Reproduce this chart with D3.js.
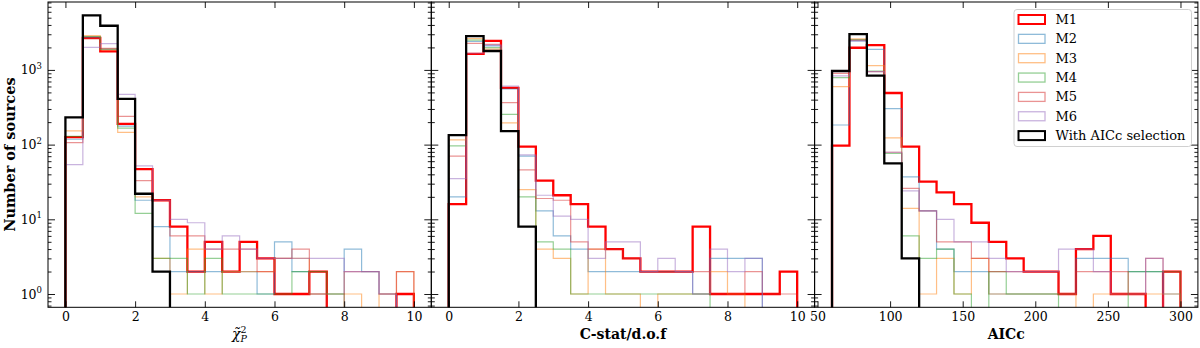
<!DOCTYPE html>
<html><head><meta charset="utf-8">
<script src="https://cdn.jsdelivr.net/npm/d3@7"></script>
<style>
html,body{margin:0;padding:0;background:#fff;}
svg text{font-family:"DejaVu Serif",serif;}
</style></head>
<body><svg id="c" width="1200" height="348"></svg>
<script>
// ---------------- DATA ----------------
const seriesNames = ["M1","M2","M3","M4","M5","M6","With AICc selection"];
const seriesColors = ["#ff0000","#1f77b4","#ff7f0e","#2ca02c","#d62728","#9467bd","#000000"];

const chiEdges = [0,0.5,1,1.5,2,2.5,3,3.5,4,4.5,5,5.5,6,6.5,7,7.5,8,8.5,9,9.5,10];
const chiM1  = [126,2680,1770,190,47,18,8,2,5,2,5,3,1,1,2,0,0,0,0,1];
const chiM2  = [118,2750,1880,177,18,8,2,2,2,2,2,1,5,2,1,1,4,2,1,0];
const chiM3  = [153,2870,1850,146,20,3,1,4,1,2,2,2,3,3,1,1,1,0,1,2];
const chiM4  = [129,2800,1905,166,12,3,3,1,3,1,1,1,1,2,2,1,0,0,0,0];
const chiM5  = [106,2600,1940,239,33,18,6,6,4,4,4,2,3,4,1,0,2,2,1,2];
const chiM6  = [54,2005,2245,471,52,18,10,9,4,6,4,3,3,3,3,3,2,2,1,0];
const chiSel = [231,5380,3900,410,22,2,0,0,0,0,0,0,0,0,0,0,0,0,0,0];

const cstatEdges = [0,0.5,1,1.5,2,2.5,3,3.5,4,4.5,5,5.5,6,6.5,7,7.5,8,8.5,9,9.5,10];
const cstatM1  = [16,1640,2440,573,94,33,21,16,8,4,3,2,2,2,8,1,1,1,1,2];
const cstatM2  = [20,2400,2100,555,70,13,6,4,2,2,2,2,2,2,1,3,3,3,0,0];
const cstatM3  = [116,2620,1900,195,25,4,3,1,4,1,1,0,1,1,1,2,1,0,0,0];
const cstatM4  = [96,2500,1990,254,20,5,4,1,1,1,1,1,1,1,1,0,0,0,0,0];
const cstatM5  = [70,2270,2200,364,46,19,18,5,4,4,3,2,2,2,2,1,1,2,1,1];
const cstatM6  = [35,1670,2150,608,73,21,11,10,3,5,5,2,3,2,1,4,2,3,0,0];
const cstatSel = [134,2840,1790,152,8,0,0,0,0,0,0,0,0,0,0,0,0,0,0,0];

const aiccEdges = [60,72,84,96,108,120,132,144,156,168,180,192,204,216,228,240,252,264,276,288,300];
const aiccM1  = [97,1980,2150,491,94,32,23,16,9,5,3,2,2,1,4,6,1,1,0,2];
const aiccM2  = [183,2440,1885,303,37,13,4,2,2,1,1,1,1,1,3,3,3,2,2,1];
const aiccM3  = [596,2600,1140,123,14,1,3,1,3,1,1,1,1,1,0,1,1,1,1,1];
const aiccM4  = [790,2550,967,76,6,3,4,1,0,2,1,1,1,0,0,0,0,2,2,2];
const aiccM5  = [900,2500,950,79,26,13,5,5,3,2,2,2,2,1,2,2,2,1,3,2];
const aiccM6  = [830,2450,950,79,24,13,10,5,5,3,2,2,2,4,4,2,1,1,3,0];
const aiccSel = [967,3020,836,56,3,0,0,0,0,0,0,0,0,0,0,0,0,0,0,0];

const chiTicks = [0,2,4,6,8,10];
const cstatTicks = [0,2,4,6,8,10];
const aiccTicks = [50,100,150,200,250,300];
const yMajorTicks = [1,10,100,1000];
const yMinorTicks = [0.7,0.8,0.9,2,3,4,5,6,7,8,9,20,30,40,50,60,70,80,90,200,300,400,500,600,700,800,900,2000,3000,4000,5000,6000,7000,8000];
const yTickExp = ["0","1","2","3"];

// ---------------- LAYOUT ----------------
const svg = d3.select("#c");
const L = 48, PW = 383.3, T = 2, B = 307.3;
const y = d3.scaleLog().domain([0.664, 8110]).range([B, T]);

const panels = [
  {edges: chiEdges, series:[chiM1,chiM2,chiM3,chiM4,chiM5,chiM6,chiSel], dom:[-0.5,10.5], ticks: chiTicks},
  {edges: cstatEdges, series:[cstatM1,cstatM2,cstatM3,cstatM4,cstatM5,cstatM6,cstatSel], dom:[-0.5,10.5], ticks: cstatTicks},
  {edges: aiccEdges, series:[aiccM1,aiccM2,aiccM3,aiccM4,aiccM5,aiccM6,aiccSel], dom:[48,312], ticks: aiccTicks}
];

const defs = svg.append("defs");

panels.forEach((p, pi) => {
  const x0 = L + pi*PW, x1 = x0 + PW;
  const x = d3.scaleLinear().domain(p.dom).range([x0, x1]);
  const g = svg.append("g");
  defs.append("clipPath").attr("id","clip"+pi).append("rect")
    .attr("x", x0).attr("y", T).attr("width", PW).attr("height", B-T);

  const plot = g.append("g").attr("clip-path", `url(#clip${pi})`);
  const line = d3.line();
  p.series.forEach((vals, si) => {
    const pts = [[x(p.edges[0]), B+20]];
    vals.forEach((v, i) => {
      const yy = v > 0 ? y(v) : B+20;
      pts.push([x(p.edges[i]), yy]);
      pts.push([x(p.edges[i+1]), yy]);
    });
    pts.push([x(p.edges[p.edges.length-1]), B+20]);
    const thick = (si === 0 || si === 6);
    plot.append("path").attr("d", line(pts))
      .attr("fill","none")
      .attr("stroke", seriesColors[si])
      .attr("stroke-width", thick ? 2.3 : 1.2)
      .attr("stroke-opacity", thick ? 1 : 0.5)
      .attr("stroke-linejoin","miter");
  });

  // axes with inward ticks
  const xb = g.append("g").attr("transform",`translate(0,${B})`)
    .call(d3.axisBottom(x).tickValues(p.ticks).tickSize(-6).tickPadding(5).tickFormat(d3.format("d")));
  const xt = g.append("g").attr("transform",`translate(0,${T})`)
    .call(d3.axisTop(x).tickValues(p.ticks).tickSize(-6).tickFormat(""));
  const yl = g.append("g").attr("transform",`translate(${x0},0)`)
    .call(d3.axisLeft(y).tickValues(yMajorTicks).tickSize(-7).tickFormat(""));
  const ylm = g.append("g").attr("transform",`translate(${x0},0)`)
    .call(d3.axisLeft(y).tickValues(yMinorTicks).tickSize(-3.5).tickFormat(""));
  const yr = g.append("g").attr("transform",`translate(${x1},0)`)
    .call(d3.axisRight(y).tickValues(yMajorTicks).tickSize(-7).tickFormat(""));
  const yrm = g.append("g").attr("transform",`translate(${x1},0)`)
    .call(d3.axisRight(y).tickValues(yMinorTicks).tickSize(-3.5).tickFormat(""));
  [xb,xt,yl,ylm,yr,yrm].forEach(a => {
    a.selectAll("path.domain").remove();
    a.selectAll("line").attr("stroke","#000").attr("stroke-width",0.9);
  });
  xb.selectAll("text").attr("font-family","DejaVu Serif").attr("font-size",12.5).attr("fill","#000");

  // frame
  g.append("rect").attr("x",x0).attr("y",T).attr("width",PW).attr("height",B-T)
    .attr("fill","none").attr("stroke","#000").attr("stroke-width",1);

  if (pi === 0) {
    yMajorTicks.forEach((v, k) => {
      const t = g.append("text").attr("x", x0-6).attr("y", y(v)+4.5)
        .attr("text-anchor","end").attr("font-size",12.5).attr("fill","#000");
      t.append("tspan").text("10");
      t.append("tspan").attr("font-size",8.5).attr("dy",-5.5).text(yTickExp[k]);
    });
  }
});

// axis labels
svg.append("text").attr("transform",`translate(15,${(T+B)/2}) rotate(-90)`)
  .attr("text-anchor","middle").attr("font-weight","bold").attr("font-size",14.5)
  .text("Number of sources");

const chi = svg.append("text").attr("x", 232).attr("y", 339).attr("font-size",14).attr("font-style","italic");
chi.append("tspan").text("\u03C7\u0303");
chi.append("tspan").attr("font-size",9.5).attr("font-style","normal").attr("dy",-6).text("2");
chi.append("tspan").attr("font-size",9.5).attr("dx",-6).attr("dy",9).text("P");

svg.append("text").attr("x", L+PW*1.5).attr("y",339).attr("text-anchor","middle")
  .attr("font-weight","bold").attr("font-size",14).text("C-stat/d.o.f");
svg.append("text").attr("x", L+PW*2.5).attr("y",339).attr("text-anchor","middle")
  .attr("font-weight","bold").attr("font-size",14).text("AICc");

// legend
const lg = svg.append("g");
lg.append("rect").attr("x",1014).attr("y",9.5).attr("width",177.5).attr("height",137).attr("rx",3)
  .attr("fill","#fff").attr("fill-opacity",0.85).attr("stroke","#d0d0d0").attr("stroke-width",1);
seriesNames.forEach((n, i) => {
  const cy = 19.5 + i*19.35;
  const thick = (i === 0 || i === 6);
  lg.append("rect").attr("x",1018.5).attr("y",cy-4.5).attr("width",26.5).attr("height",9)
    .attr("fill","none").attr("stroke",seriesColors[i])
    .attr("stroke-width", thick ? 2 : 1.3).attr("stroke-opacity", thick ? 1 : 0.5);
  lg.append("text").attr("x",1055.5).attr("y",cy+4.5).attr("font-size",13).text(n);
});
</script></body></html>
